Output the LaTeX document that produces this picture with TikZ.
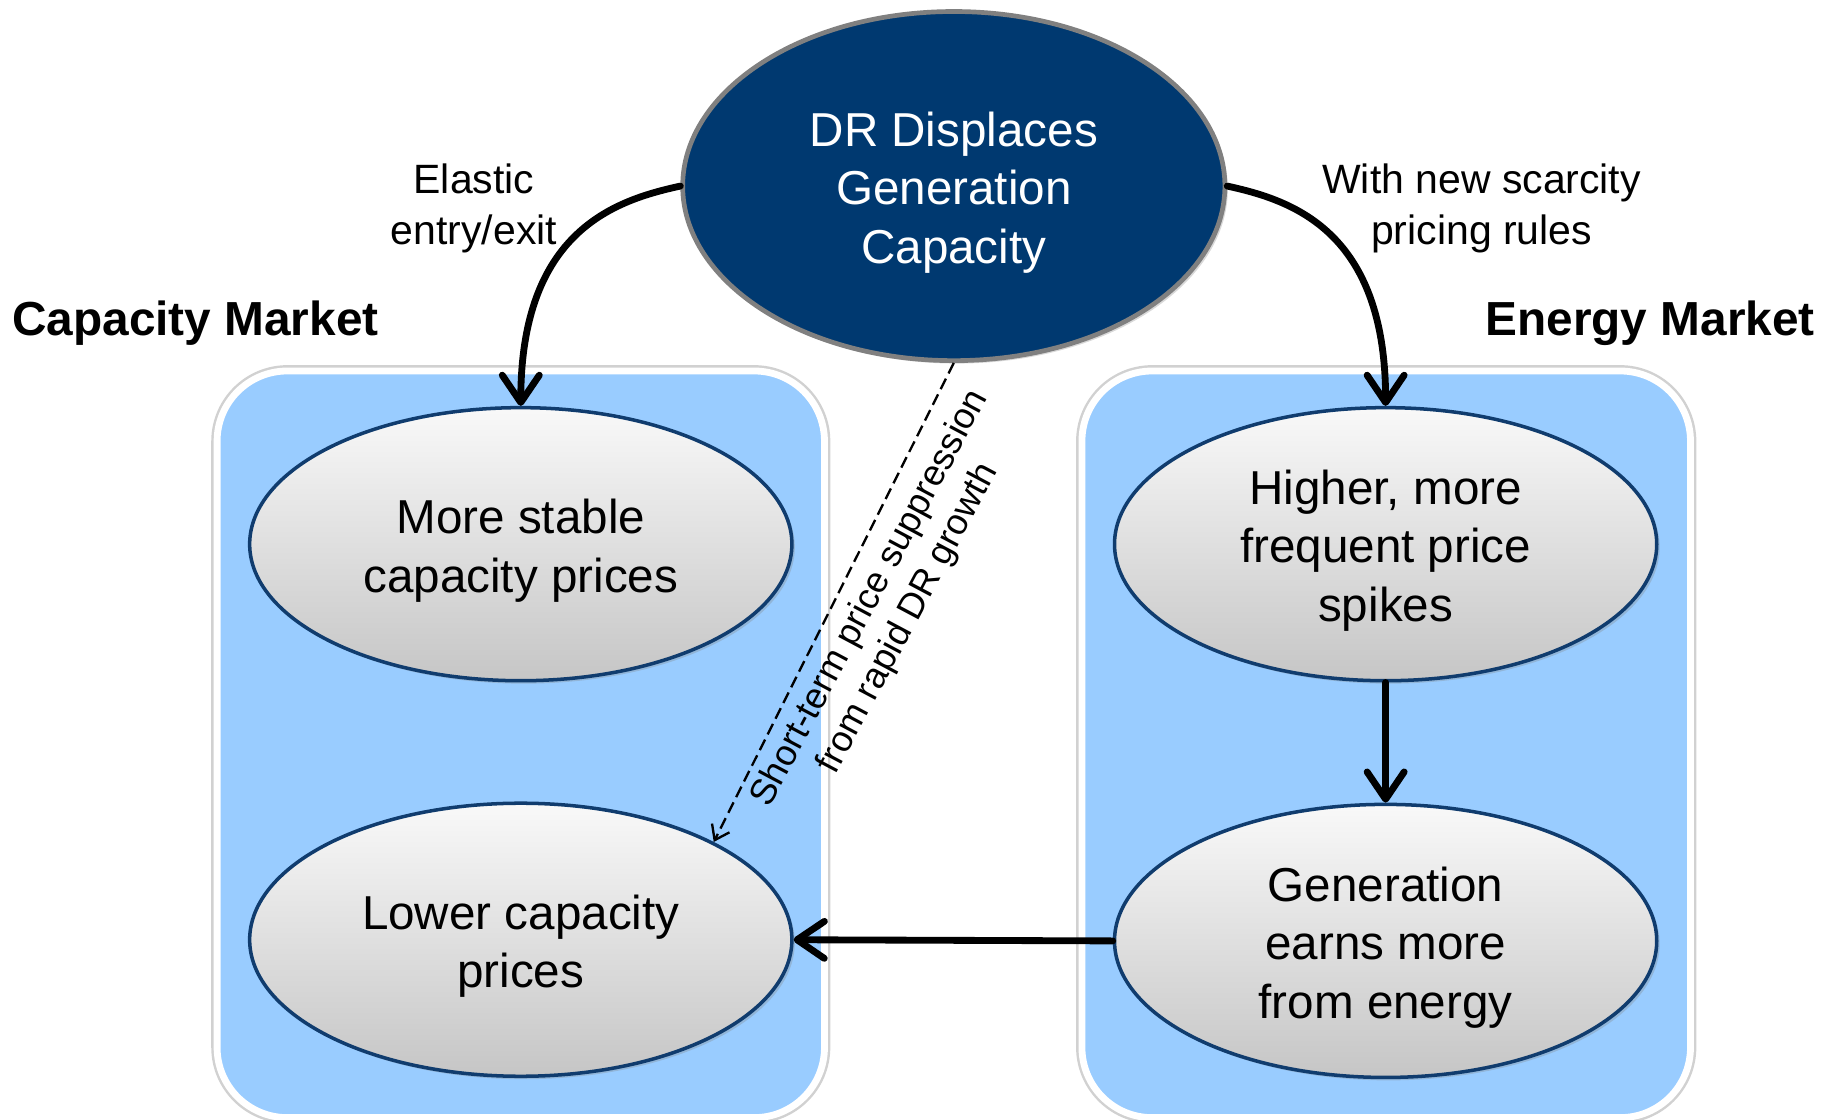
\documentclass[tikz,border=0pt]{standalone}
\usepackage{fontspec}
\setmainfont{Liberation Sans}
\usetikzlibrary{shapes.geometric,arrows.meta,shadows}
\definecolor{dkblue}{RGB}{0,57,112}
\definecolor{panelblue}{RGB}{153,204,255}
\definecolor{rimblue}{RGB}{16,60,110}
\newcommand{\elltext}[1]{\raisebox{-3.6pt}[\height][\depth]{\begin{tabular}{@{}c@{}}#1\end{tabular}}}
\begin{document}
\begin{tikzpicture}[x=0.6pt,y=-0.6pt,
  panel/.style={fill=panelblue, draw=white, line width=3.5pt, rounded corners=36pt,
    preaction={draw=black!18, line width=6pt}},
  ell/.style={ellipse, minimum width=278pt, minimum height=140pt, inner sep=0pt,
    draw=rimblue, line width=1.8pt, top color=gray!5, bottom color=gray!45,
    drop shadow={opacity=0.3,shadow xshift=1.5pt,shadow yshift=-1.5pt},
    font=\fontsize{24.4pt}{30pt}\selectfont},
  topell/.style={ellipse, minimum width=278pt, minimum height=179pt, inner sep=0pt,
    draw=gray, line width=2.4pt, fill=dkblue, text=white,
    drop shadow={opacity=0.3,shadow xshift=1.5pt,shadow yshift=-1.5pt},
    font=\fontsize{24.4pt}{30pt}\selectfont},
  head/.style={font=\bfseries\fontsize{24.5pt}{29pt}\selectfont, inner sep=0pt},
  lab/.style={align=center, font=\fontsize{21pt}{26.4pt}\selectfont, inner sep=0pt},
  rotlab/.style={align=center, font=\fontsize{18.6pt}{22.2pt}\selectfont, inner sep=0pt},
  bigarrow/.style={line width=3.5pt, line cap=round, -{Straight Barb[round,length=14pt,width=19pt]}},
  dasharrow/.style={line width=1.2pt, dash pattern=on 6pt off 3pt, -{Straight Barb[length=7pt,width=10pt]}}
]
\useasboundingbox (0,0) rectangle (1568,957);

% panels
\draw[panel] (185.5,317) rectangle (704.5,955);
\draw[panel] (924.5,317) rectangle (1444.5,955);

% nodes
\node[topell] (top) at (815,159) {\elltext{DR Displaces\\Generation\\Capacity}};
\node[ell] (ms) at (445,465) {\elltext{More stable\\capacity prices}};
\node[ell] (lc) at (445,803) {\elltext{Lower capacity\\prices}};
\node[ell] (hs) at (1184,465) {\elltext{Higher, more\\frequent price\\spikes}};
\node[ell] (ge) at (1184,804) {\elltext{Generation\\earns more\\from energy}};

% headings and labels
\node[head] (cm) at (167,276) {Capacity Market};
\node[head] (em) at (1410,276) {Energy Market};
\node[lab] (el) at (405,178) {Elastic\\entry/exit};
\node[lab] (ws) at (1266,178) {With new scarcity\\pricing rules};
\node[rotlab, rotate=62] (st) at (760,520) {Short-term price suppression\\from rapid DR growth};

% connectors
\draw[bigarrow] (top.west) .. controls +(-55,12) and +(0,-150) .. (ms.north);
\draw[bigarrow] (top.east) .. controls +(55,12) and +(0,-150) .. (hs.north);
\draw[bigarrow] (hs.south) -- (ge.north);
\draw[bigarrow] (ge.west) -- (lc.east);
\draw[dasharrow] (top.south) -- (lc.north east);
\end{tikzpicture}
\end{document}
